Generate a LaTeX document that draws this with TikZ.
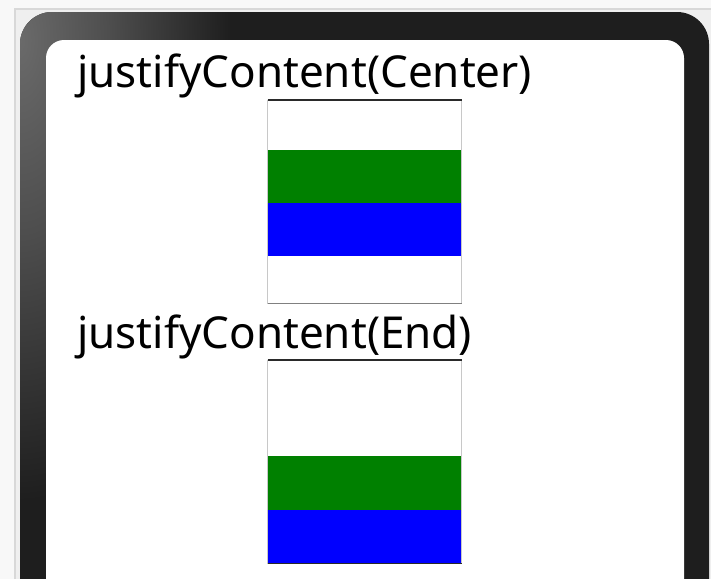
\documentclass[tikz,border=0pt]{standalone}
\usepackage{fontspec}
\setmainfont{Noto Sans}
\definecolor{bgout}{HTML}{F8F8F8}
\definecolor{bgin}{HTML}{EFEFEF}
\definecolor{bgline}{HTML}{D8D8D8}
\definecolor{framedark}{HTML}{1E1E1E}
\definecolor{framelight}{HTML}{6A6A6A}
\definecolor{framemid}{HTML}{4E4E4E}
\definecolor{itemgreen}{HTML}{008000}
\definecolor{itemblue}{HTML}{0000FF}
\definecolor{sideline}{HTML}{C8C8C8}
\definecolor{topline}{HTML}{2A2A2A}
\pgfdeclareradialshading{framesh}{\pgfpoint{0bp}{0bp}}{color(0bp)=(framelight); color(10bp)=(framemid); color(24bp)=(framedark); color(50bp)=(framedark)}
\tikzset{
  label text/.style={font=\fontsize{44}{50}\selectfont, inner sep=0pt, anchor=base west, text=black},
  greenitem/.style={fill=itemgreen},
  blueitem/.style={fill=itemblue},
}
\begin{document}
\begin{tikzpicture}[x=1pt,y=-1pt]
\useasboundingbox (0,0) rectangle (711,579);
\fill[bgout] (0,0) rectangle (711,579);
\fill[bgin] (15,9) rectangle (711,579);
\draw[bgline, line width=1.5] (15,579) -- (15,9) -- (711,9);
% phone frame
\begin{scope}
  \clip[rounded corners=32] (20,12) rectangle (709,620);
  \fill[framedark] (0,0) rectangle (711,579);
  \shade[shading=framesh] (20,40) ellipse [x radius=220, y radius=480];
\end{scope}
\fill[white, rounded corners=18] (46,40) rectangle (684,620);
% texts
\node[label text] (t1) at (77,87) {justifyContent(Center)};
\node[label text] (t2) at (77,348) {justifyContent(End)};
% box 1
\fill[white] (267.5,100) rectangle (461.5,303.5);
\fill[greenitem] (267.5,149.5) rectangle (461.5,202.5);
\fill[blueitem] (267.5,202.5) rectangle (461.5,255.5);
\draw[sideline, line width=1] (267.5,100) -- (267.5,303.5) (461.5,100) -- (461.5,303.5);
\draw[gray, line width=1] (267.5,303.5) -- (461.5,303.5);
\draw[topline, line width=1.5] (267.5,100) -- (461.5,100);
% box 2
\fill[white] (267.5,360) rectangle (461.5,563.5);
\fill[greenitem] (267.5,456) rectangle (461.5,509.5);
\fill[blueitem] (267.5,509.5) rectangle (461.5,563.5);
\draw[sideline, line width=1] (267.5,360) -- (267.5,563.5) (461.5,360) -- (461.5,563.5);
\draw[topline, line width=1.5] (267.5,563.5) -- (461.5,563.5);
\draw[topline, line width=1.5] (267.5,360) -- (461.5,360);
\end{tikzpicture}
\end{document}
